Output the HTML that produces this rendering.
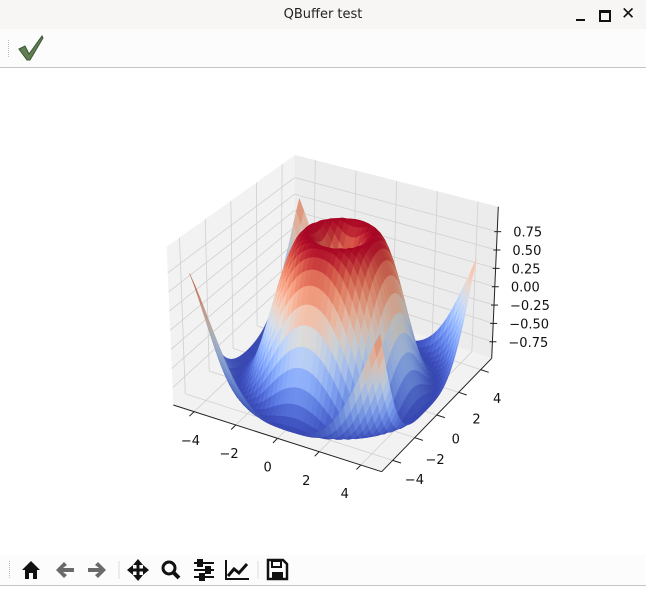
<!DOCTYPE html>
<html><head><meta charset="utf-8"><style>
body{margin:0;width:646px;height:591px;overflow:hidden;background:#fff;font-family:"DejaVu Sans","Liberation Sans",sans-serif;position:relative}
.abs{position:absolute}
</style></head><body>
<div class="abs" style="left:0;top:0;width:646px;height:29px;background:#f7f6f4"></div>
<div class="abs" style="left:0;top:7px;width:646px;text-align:center;font-size:13px;color:#222">QBuffer test</div>
<div class="abs" style="left:576px;top:19px;width:9px;height:2px;background:#111"></div>
<div class="abs" style="left:599px;top:10px;width:8px;height:7px;border:2px solid #111;border-top-width:3px"></div>
<div class="abs" style="left:621px;top:4px;font-size:17px;font-weight:bold;color:#111">✕</div>
<div class="abs" style="left:0;top:29px;width:646px;height:38px;background:#fcfcfc;border-bottom:1px solid #c4c4c4"></div>
<div class="abs" style="left:8px;top:40px;width:3px;height:17px;border-left:1px dotted #bbb"></div>
<svg class="abs" style="left:16px;top:34px" width="30" height="28"><path d="M3 15 L9 12 L13 20 L26 2 L27 4 L14 26 L11 26 Z" fill="#5f8050" stroke="#3e5534" stroke-width="1"/></svg>

<svg id="chart" class="abs" style="left:0;top:68px" width="646" height="487" viewBox="0 68 646 487"></svg>

<div class="abs" style="left:0;top:555px;width:646px;height:30px;background:#fcfcfc;border-bottom:1px solid #c4c4c4"></div>
<div class="abs" style="left:9px;top:561px;width:3px;height:17px;border-left:1px dotted #bbb"></div>
<svg class="abs" style="left:18px;top:558px" width="280" height="24">
 <g><path d="M4 12 L13 3 L22 12 L19 12 L19 21 L15 21 L15 15 L11 15 L11 21 L7 21 L7 12 Z" fill="#111"/></g>
 <g><path d="M38 12 L46 4 L49 7 L45 10 L56 10 L56 14 L45 14 L49 17 L46 20 Z" fill="#6a6a6a"/></g>
 <g><path d="M88 12 L80 4 L77 7 L81 10 L70 10 L70 14 L81 14 L77 17 L80 20 Z" fill="#6a6a6a"/></g>
 <line x1="101" y1="3" x2="101" y2="21" stroke="#ddd"/>
 <g fill="#111"><path d="M120 1 L125 7 L121.5 7 L121.5 10.5 L125 10.5 L125 7 L131 12 L125 17 L125 13.5 L121.5 13.5 L121.5 17 L125 17 L120 23 L115 17 L118.5 17 L118.5 13.5 L115 13.5 L115 17 L109 12 L115 7 L115 10.5 L118.5 10.5 L118.5 7 L115 7 Z"/></g>
 <g><circle cx="151" cy="10" r="6" fill="none" stroke="#111" stroke-width="3"/><line x1="155" y1="14" x2="161" y2="20" stroke="#111" stroke-width="4"/></g>
 <g stroke="#111" stroke-width="2"><line x1="176" y1="5" x2="196" y2="5"/><line x1="176" y1="12" x2="196" y2="12"/><line x1="176" y1="19" x2="196" y2="19"/><rect x="180" y="2" width="4" height="6" fill="#111"/><rect x="188" y="9" width="4" height="6" fill="#111"/><rect x="182" y="16" width="4" height="6" fill="#111"/></g>
 <g fill="none" stroke="#111"><path d="M208 2 L208 21 L231 21" stroke-width="2"/><path d="M210 18 L216 11 L221 15 L229 6" stroke-width="3"/></g>
 <line x1="240" y1="3" x2="240" y2="21" stroke="#ddd"/>
 <g><path d="M250 2 L265 2 L269 6 L269 21 L250 21 Z" fill="none" stroke="#111" stroke-width="2.5"/><rect x="254" y="3" width="9" height="6" fill="none" stroke="#111" stroke-width="2"/><rect x="254" y="14" width="11" height="6" fill="#111"/></g>
</svg>

<script>
// tick values and labels
const xTicks = [-4, -2, 0, 2, 4];
const yTicks = [-4, -2, 0, 2, 4];
const zTicks = [-0.75, -0.5, -0.25, 0, 0.25, 0.5, 0.75];
const zTickLabels = ["−0.75", "−0.50", "−0.25", "0.00", "0.25", "0.50", "0.75"];
const xTickLabels = ["−4", "−2", "0", "2", "4"];
const yTickLabels = ["−4", "−2", "0", "2", "4"];
// grid sample coordinates (X = Y = arange(-5, 5, 0.25))
const gridStart = -5, gridStep = 0.25, gridCount = 40;

const NS = "http://www.w3.org/2000/svg";
const svg = document.getElementById("chart");
const zlo = -0.975, zhi = 1.09;
const Lb=[173.3,405],Fb=[381.7,471.7],Rb=[491.7,358.3],Bb=[293,292];
const Lt=[166.7,246.7],Ft=[388,302],Rt=[498.3,206.7],Bt=[295,155];
function bil(P,u,v){return [P[0][0]*(1-u)*(1-v)+P[1][0]*u*(1-v)+P[2][0]*u*v+P[3][0]*(1-u)*v,
 P[0][1]*(1-u)*(1-v)+P[1][1]*u*(1-v)+P[2][1]*u*v+P[3][1]*(1-u)*v];}
function projUV(u,v,z){const t=(z-zlo)/(zhi-zlo);
 const b=bil([Lb,Fb,Rb,Bb],u,v),a=bil([Lt,Ft,Rt,Bt],u,v);
 return [b[0]+(a[0]-b[0])*t,b[1]+(a[1]-b[1])*t];}
function proj(x,y,z){return projUV((x+5)/10,(y+5)/10,z);}
// surface uses the padded data range
const dlo=-5.7, dhi=5.45;
function projS(x,y,z){return projUV((x-dlo)/(dhi-dlo),(y-dlo)/(dhi-dlo),z);}
function el(tag,attrs,name,inter){const e=document.createElementNS(NS,tag);for(const k in attrs)e.setAttribute(k,attrs[k]);
 
 
 svg.appendChild(e);return e;}
function pts(a,f){f=f||proj;return a.map(p=>f(...p).map(n=>n.toFixed(2)).join(",")).join(" ");}
el("polygon",{points:pts([[-5,-5,zlo],[5,-5,zlo],[5,5,zlo],[-5,5,zlo]]),fill:"#f2f2f2"},"floor-pane","false");
el("polygon",{points:pts([[-5,-5,zlo],[-5,5,zlo],[-5,5,zhi],[-5,-5,zhi]]),fill:"#f2f2f2"},"left-pane","false");
el("polygon",{points:pts([[-5,5,zlo],[5,5,zlo],[5,5,zhi],[-5,5,zhi]]),fill:"#ececec"},"back-pane","false");
const gc="#d0d0d0";
function line(a,b,name,st,w){const p=proj(...a),q=proj(...b);
 el("line",{x1:p[0],y1:p[1],x2:q[0],y2:q[1],stroke:st||gc,"stroke-width":w||0.8},name,"false");}
xTicks.forEach(x=>{line([x,-5,zlo],[x,5,zlo],"x-gridline");line([x,5,zlo],[x,5,zhi],"x-gridline");});
yTicks.forEach(y=>{line([-5,y,zlo],[5,y,zlo],"y-gridline");line([-5,y,zlo],[-5,y,zhi],"y-gridline");});
zTicks.forEach(z=>{line([-5,-5,z],[-5,5,z],"z-gridline");line([-5,5,z],[5,5,z],"z-gridline");});
// surface
const N=gridCount, X=[];for(let i=0;i<N;i++)X.push(gridStart+i*gridStep);
const Z=X.map(x=>X.map(y=>Math.sin(Math.sqrt(x*x+y*y))));
let zmin=Infinity,zmax=-Infinity;Z.forEach(r=>r.forEach(v=>{zmin=Math.min(zmin,v);zmax=Math.max(zmax,v);}));
const cw=[[0,[59,76,192]],[0.125,[98,130,234]],[0.25,[141,176,254]],[0.375,[184,208,249]],[0.5,[221,221,221]],[0.625,[245,196,173]],[0.75,[244,154,123]],[0.875,[222,96,77]],[1,[180,4,38]]];
function cmap(t){t=Math.max(0,Math.min(1,t));for(let i=1;i<cw.length;i++){if(t<=cw[i][0]){const a=cw[i-1],b=cw[i],f=(t-a[0])/(b[0]-a[0]);return a[1].map((c,k)=>c+(b[1][k]-c)*f);}}return cw[cw.length-1][1];}
const L=[-0.667,-0.667,0.333];
const faces=[];
for(let i=0;i<N-1;i++)for(let j=0;j<N-1;j++){
 const p=[[X[i],X[j],Z[i][j]],[X[i+1],X[j],Z[i+1][j]],[X[i+1],X[j+1],Z[i+1][j+1]],[X[i],X[j+1],Z[i][j+1]]];
 const cx=(X[i]+X[i+1])/2,cy=(X[j]+X[j+1])/2,cz=(p[0][2]+p[1][2]+p[2][2]+p[3][2])/4;
 const d1=[p[2][0]-p[0][0],p[2][1]-p[0][1],p[2][2]-p[0][2]],d2=[p[3][0]-p[1][0],p[3][1]-p[1][1],p[3][2]-p[1][2]];
 let n=[d1[1]*d2[2]-d1[2]*d2[1],d1[2]*d2[0]-d1[0]*d2[2],d1[0]*d2[1]-d1[1]*d2[0]];
 const nl=Math.hypot(...n);n=n.map(v=>v/nl);if(n[2]<0)n=n.map(v=>-v);
 const s=n[0]*L[0]+n[1]*L[1]+n[2]*L[2];
 const depth=cx/10*0.433-cy/10*0.75+cz/2.2*0.5;
 faces.push({p,cz,s,depth});}
let smin=Infinity,smax=-Infinity;faces.forEach(f=>{smin=Math.min(smin,f.s);smax=Math.max(smax,f.s);});
faces.sort((a,b)=>a.depth-b.depth);
faces.forEach(f=>{const c=cmap((f.cz-zmin)/(zmax-zmin));const k=0.8+0.22*(f.s-smin)/(smax-smin);
 const col="rgb("+c.map(v=>Math.round(Math.min(255,v*k))).join(",")+")";
 el("polygon",{points:pts(f.p,projS),fill:col,stroke:col,"stroke-width":0.5},"surface-face","false");});
// axes
line([-5,-5,zlo],[5,-5,zlo],"x-axis-line","#222",1);
line([5,-5,zlo],[5,5,zlo],"y-axis-line","#222",1);
line([5,5,zlo],[5,5,zhi],"z-axis-line","#222",1);
function text(x,y,s,name,anchor){const t=el("text",{x:x,y:y,"font-size":13,fill:"#111","text-anchor":anchor||"middle","font-family":"DejaVu Sans, Liberation Sans, sans-serif"},name,"false");t.textContent=s;}
xTicks.forEach((x,i)=>{const u=(x+5)/10;const a=proj(x,-5,zlo);const b=proj(x,-5.4,zlo);
 el("line",{x1:a[0],y1:a[1],x2:b[0],y2:b[1],stroke:"#222","stroke-width":1},"x-tick","false");
 const q=proj(x,-6.6,zlo);text(q[0]-3+20-17*u,q[1]+15,xTickLabels[i],"x-tick-label");});
yTicks.forEach((y,i)=>{const v=(y+5)/10;const a=proj(5,y,zlo);const b=proj(5.4,y,zlo);
 el("line",{x1:a[0],y1:a[1],x2:b[0],y2:b[1],stroke:"#222","stroke-width":1},"y-tick","false");
 const q=proj(6.6,y,zlo);text(q[0]+6-17-5*v,q[1]+12+12*v,yTickLabels[i],"y-tick-label");});
zTicks.forEach((z,i)=>{const a=proj(5,5,z);
 el("line",{x1:a[0]-3,y1:a[1],x2:a[0]+4,y2:a[1],stroke:"#222","stroke-width":1},"z-tick","false");
 text(a[0]+16,a[1]+5,zTickLabels[i],"z-tick-label","start");});
</script>
</body></html>
